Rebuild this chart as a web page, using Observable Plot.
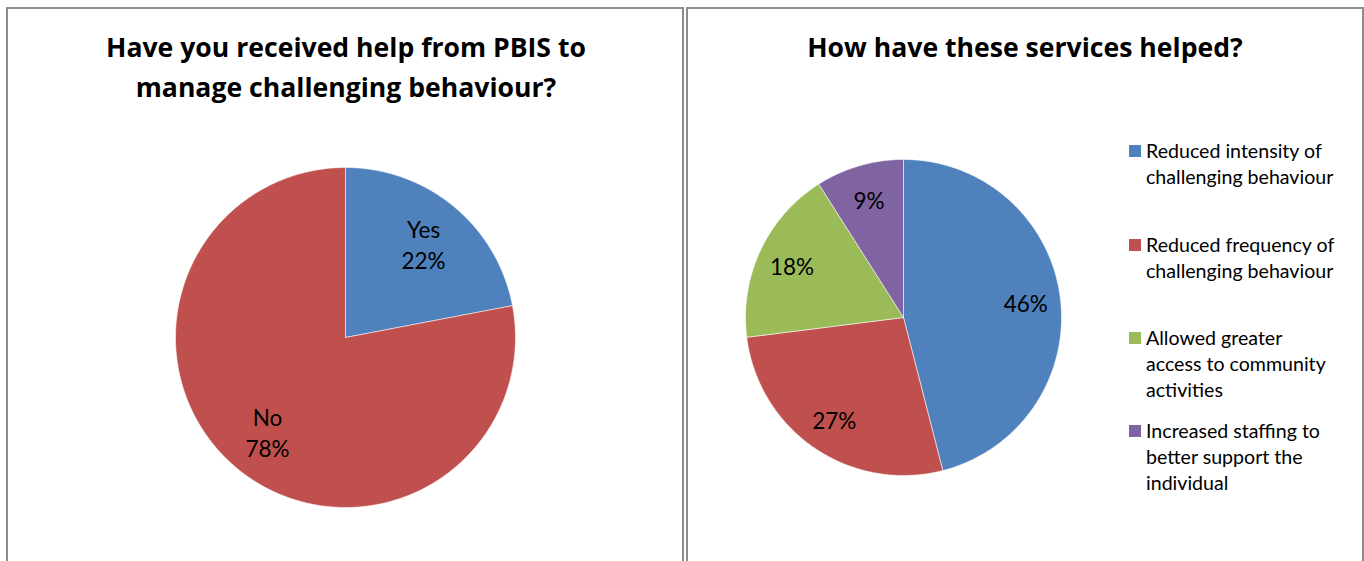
<!DOCTYPE html>
<html><head><meta charset="utf-8">
<script src="https://cdn.jsdelivr.net/npm/d3@7"></script>
<script src="https://cdn.jsdelivr.net/npm/@observablehq/plot@0.6"></script>
<style>
body{margin:0;background:#fff;font-family:Lato,"Open Sans",sans-serif;}
#page{position:relative;width:1364px;height:561px;overflow:hidden;background:#fff;}
.panel{position:absolute;top:7px;height:600px;border:2px solid #8c8c8c;box-sizing:border-box;}
.title{position:absolute;font-family:"Open Sans",Lato,sans-serif;font-weight:bold;font-size:26.6px;text-align:center;line-height:40px;color:#000;white-space:nowrap;}
.pie{position:absolute;}
.legend{position:absolute;left:1129px;top:0;font-size:19.6px;line-height:26px;color:#000;}
.item{position:absolute;left:0;white-space:nowrap;}
.sw{position:absolute;left:0;top:7px;width:12px;height:12px;}
.lt{position:absolute;left:17px;top:0;}
</style>
</head><body>
<div id="page">
  <div class="panel" style="left:6px;width:678px;"></div>
  <div class="panel" style="left:686px;width:678px;"></div>
  <div class="title" id="t1" style="left:46px;width:600px;top:27px;"></div>
  <div class="title" id="t2" style="left:725px;width:600px;top:27px;"></div>
  <div class="pie" id="pie1" style="left:171px;top:163px;"></div>
  <div class="pie" id="pie2" style="left:741px;top:155px;"></div>
  <div class="legend" id="legend"></div>
</div>
<script>
// ---- data ----
const title1 = ["Have you received help from PBIS to", "manage challenging behaviour?"];
const title2 = ["How have these services helped?"];
const q1Categories = ["Yes", "No"];
const q1Values = [22, 78];
const q1Colors = ["#4F81BD", "#C0504D"];
const q2Categories = [
  "Reduced intensity of challenging behaviour",
  "Reduced frequency of challenging behaviour",
  "Allowed greater access to community activities",
  "Increased staffing to better support the individual"
];
const q2LegendLines = [
  ["Reduced intensity of", "challenging behaviour"],
  ["Reduced frequency of", "challenging behaviour"],
  ["Allowed greater", "access to community", "activities"],
  ["Increased staffing to", "better support the", "individual"]
];
const q2Values = [46, 27, 18, 9];
const q2Colors = ["#4F81BD", "#C0504D", "#9BBB59", "#8064A2"];
const legendTops = [138, 232, 325, 418];

document.getElementById("t1").innerHTML = title1.join("<br>");
document.getElementById("t2").innerHTML = title2.join("<br>");

function pieChart(cats, vals, colors, radius, labelFrac, showCat) {
  const arcs = d3.pie().sort(null).value(d => d)(vals);
  const poly = [];
  const labels = [];
  arcs.forEach((a, i) => {
    const cat = cats[i];
    poly.push({cat, x: 0, y: 0});
    const n = Math.max(2, Math.ceil((a.endAngle - a.startAngle) / 0.01));
    for (let k = 0; k <= n; k++) {
      const t = a.startAngle + (a.endAngle - a.startAngle) * k / n;
      poly.push({cat, x: Math.sin(t), y: Math.cos(t)});
    }
    poly.push({cat, x: 0, y: 0});
    const m = (a.startAngle + a.endAngle) / 2;
    labels.push({
      x: labelFrac * Math.sin(m), y: labelFrac * Math.cos(m),
      text: (showCat ? cat + "\n" : "") + vals[i] + "%"
    });
  });
  const m = 4;
  const size = 2 * radius + 2 * m;
  return Plot.plot({
    width: size, height: size, margin: m,
    x: {domain: [-1, 1], axis: null},
    y: {domain: [-1, 1], axis: null},
    color: {type: "ordinal", domain: cats, range: colors},
    style: {fontFamily: "Lato, 'Open Sans', sans-serif", background: "transparent", overflow: "visible"},
    marks: [
      Plot.line(poly, {x: "x", y: "y", z: "cat", fill: "cat", stroke: "#ffffff", strokeOpacity: 0.55, strokeWidth: 1, curve: "linear"}),
      Plot.text(labels, {x: "x", y: "y", text: "text", fontSize: 22.5, lineHeight: 1.38, fill: "#000"})
    ]
  });
}

document.getElementById("pie1").appendChild(pieChart(q1Categories, q1Values, q1Colors, 170, 0.72, true));
document.getElementById("pie2").appendChild(pieChart(q2Categories, q2Values, q2Colors, 158, 0.78, false));

const leg = document.getElementById("legend");
q2Categories.forEach((c, i) => {
  const it = document.createElement("div");
  it.className = "item";
  it.style.top = legendTops[i] + "px";
  it.innerHTML = `<span class="sw" style="background:${q2Colors[i]}"></span><span class="lt">${q2LegendLines[i].join("<br>")}</span>`;
  leg.appendChild(it);
});
</script>
</body></html>
